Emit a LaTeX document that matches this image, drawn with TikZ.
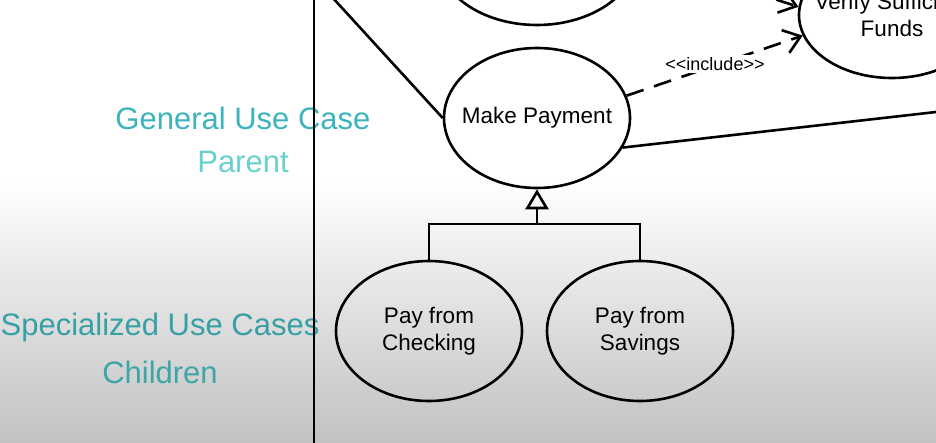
\documentclass[tikz,border=0pt]{standalone}
\usepackage{fontspec}
\setmainfont{Liberation Sans}
\usetikzlibrary{shapes.geometric,arrows.meta}
\definecolor{tealA}{RGB}{60,180,190}
\definecolor{tealB}{RGB}{105,208,208}
\definecolor{tealC}{RGB}{55,160,165}
\definecolor{tealD}{RGB}{62,166,166}
\definecolor{bggray}{RGB}{194,194,194}
\tikzset{
  usecase/.style={draw=black, line width=2.6pt, ellipse, inner sep=0pt,
    minimum width=186pt, minimum height=140pt, align=center,
    font=\fontsize{22.5}{27}\selectfont},
  assoc/.style={draw=black, line width=2.6pt},
  incl/.style={draw=black, line width=2.6pt, dash pattern=on 18pt off 11pt,
    -{Straight Barb[length=16pt,width=24pt,line width=2.6pt]}},
  gen/.style={draw=black, line width=2.6pt,
    -{Triangle[open,length=20pt,width=23pt,line width=2.6pt]}},
  sidelabel/.style={inner sep=0pt, font=\fontsize{31}{36}\selectfont},
  stereo/.style={fill=white, inner xsep=1pt, inner ysep=2pt, font=\fontsize{18}{20}\selectfont}
}
\begin{document}
\begin{tikzpicture}[x=1pt,y=-1pt]
\useasboundingbox (0,0) rectangle (936,442);
\clip (0,0) rectangle (936,442);
% background
\fill[white] (0,0) rectangle (936,181);
\shade[top color=white, bottom color=bggray] (0,180) rectangle (936,442);
% side labels
\node[sidelabel, text=tealA] (lgen) at (243,118) {General Use Case};
\node[sidelabel, text=tealB] (lpar) at (243,162) {Parent};
\node[sidelabel, text=tealC] (lspec) at (160,327) {Specialized Use Cases};
\node[sidelabel, text=tealD] (lchi) at (160,372) {Children};
% system boundary
\coordinate (sbtop) at (314,-5);
\coordinate (sbbot) at (314,447);
\draw[black, line width=2.8pt] (sbtop) -- (sbbot);
% use cases
\node[usecase, minimum width=200pt] (te) at (537,-45) {};
\node[usecase] (mp) at (537,118) {\makebox[0pt]{Make Payment}};
\node[usecase, minimum height=126pt] (vf) at (892,15) {\makebox[0pt]{Verify Sufficient}\\Funds};
\node[usecase] (ch) at (429,331) {Pay from\\Checking};
\node[usecase] (sv) at (640,331) {Pay from\\Savings};
% associations
\coordinate (actor) at (300,-38);
\coordinate (right) at (980,107);
\draw[assoc] (actor) -- (mp.west);
\draw[assoc] (mp.-19) -- (right);
% includes
\draw[incl] (mp.14) -- (vf.193);
\node[stereo] (inl) at (715,64) {{<}{<}include{>}{>}};
\draw[incl] (te.east) -- (vf.175);
% generalization
\coordinate (gj) at (537,224);
\draw[assoc] (ch.north) |- (gj) -| (sv.north);
\draw[gen] (gj) -- (mp.south);
\end{tikzpicture}
\end{document}
